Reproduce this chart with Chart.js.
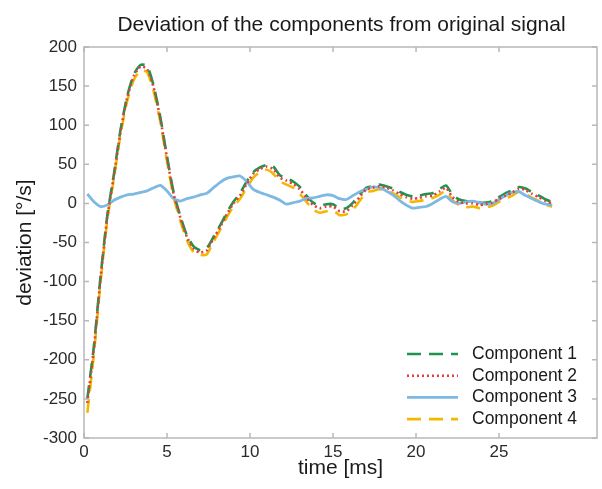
<!DOCTYPE html>
<html>
<head>
<meta charset="utf-8">
<script src="https://cdn.jsdelivr.net/npm/chart.js@4/dist/chart.umd.min.js"></script>
<style>
    html, body {margin: 0; padding: 0; background: #ffffff;}
    #wrap {width: 602px; height: 489px;}
</style>
</head>
<body>
<div id="wrap"><canvas id="deviation_canvas" width="602" height="489"></canvas></div>
<script>
// time axis in ms (shared by all four components)
const time_ms = [
    0.2, 0.6, 1.0, 1.4, 1.8, 2.2, 2.6, 3.0, 3.4, 3.8,
    4.2, 4.6, 5.0, 5.4, 5.8, 6.2, 6.6, 7.0, 7.4, 7.8,
    8.2, 8.6, 9.0, 9.4, 9.8, 10.2, 10.6, 11.0, 11.4, 11.8,
    12.2, 12.6, 13.0, 13.4, 13.8, 14.2, 14.6, 15.0, 15.4, 15.8,
    16.2, 16.6, 17.0, 17.4, 17.8, 18.2, 18.6, 19.0, 19.4, 19.8,
    20.2, 20.6, 21.0, 21.4, 21.8, 22.2, 22.6, 23.0, 23.4, 23.8,
    24.2, 24.6, 25.0, 25.4, 25.8, 26.2, 26.6, 27.0, 27.4, 27.8,
    28.2
];

// deviation in deg/s
const component_1 = [
    -250, -182, -93, -16, 37, 94, 137, 165, 177, 176,
    150, 110, 60, 14, -16, -41, -55, -60, -57, -43,
    -28, -12, 2, 13, 28, 40, 46, 49, 47, 36,
    32, 28, 21, 10, 1, -3, -1, -1, -7, -6,
    1, 11, 20, 22, 24, 22, 19, 15, 11, 9,
    10, 12, 13, 18, 23, 11, 5, 3, 2, 1,
    1, 3, 8, 13, 17, 21, 19, 14, 10, 5,
    2
];
const component_2 = [
    -255, -185, -95, -18, 35, 92, 135, 163, 175, 172,
    148, 108, 58, 12, -18, -43, -58, -63, -60, -45,
    -30, -14, 0, 10, 25, 38, 44, 47, 44, 33,
    29, 25, 18, 7, -2, -6, -4, -4, -10, -10,
    -2, 8, 18, 20, 22, 20, 17, 12, 8, 6,
    7, 9, 10, 15, 20, 8, 2, 0, 0, -2,
    -1, 1, 6, 10, 14, 19, 17, 12, 8, 3,
    0
];
const component_3 = [
    12, 2, -4, -2, 4, 8, 11, 12, 14, 16,
    20, 23, 16, 6, 3, 6, 8, 11, 13, 20,
    27, 32, 34, 35, 28, 18, 14, 11, 8, 4,
    -1, 1, 3, 6, 7, 9, 11, 10, 6, 5,
    10, 15, 18, 21, 20, 16, 11, 4, -2, -6,
    -5, -4, 0, 5, 9, 2, 0, 2, 3, 1,
    -1, 0, 5, 10, 14, 15, 10, 6, 2, -1,
    -2
];
const component_4 = [
    -268, -192, -100, -22, 32, 88, 131, 158, 170, 168,
    143, 104, 54, 8, -22, -47, -62, -66, -65, -49,
    -34, -18, -4, 6, 20, 33, 40, 43, 38, 28,
    24, 20, 12, 2, -8, -12, -10, -9, -15, -14,
    -8, 3, 14, 16, 18, 16, 13, 8, 4, 2,
    3, 5, 7, 11, 16, 4, -2, -5, -4, -6,
    -5, -3, 2, 6, 10, 15, 12, 7, 3, -2,
    -4
];

const series_names = ["Component 1", "Component 2", "Component 3", "Component 4"];
const series_values = [component_1, component_2, component_3, component_4];
const x_tick_values = [0, 5, 10, 15, 20, 25];
const y_tick_values = [-300, -250, -200, -150, -100, -50, 0, 50, 100, 150, 200];

const series_styles = [
    {color: "#1f9350", dash: [14, 8], width: 2.6, order: 2},
    {color: "#e2403c", dash: [2, 3], width: 2.6, order: 0},
    {color: "#7db9e2", dash: [], width: 2.8, order: 1},
    {color: "#f2b800", dash: [14, 8], width: 2.6, order: 3}
];

const FONT = "'Liberation Sans', Arial, Helvetica, sans-serif";

function build_datasets() {
    let datasets = [];
    for (let i = 0; i < series_names.length; i++) {
        const style = series_styles[i];
        datasets.push({
            label: series_names[i],
            data: time_ms.map((t, k) => ({x: t, y: series_values[i][k]})),
            borderColor: style.color,
            backgroundColor: style.color,
            borderDash: style.dash,
            borderWidth: style.width,
            pointRadius: 0,
            tension: 0.2,
            order: style.order
        });
    }
    return datasets;
}

// frame with inward tick marks, like the original figure
const frame_plugin = {
    id: "frame_plugin",
    afterDraw(chart) {
        const ctx = chart.ctx;
        const area = chart.chartArea;
        const xs = chart.scales.x;
        const ys = chart.scales.y;
        ctx.save();
        ctx.strokeStyle = "#b8b8b8";
        ctx.lineWidth = 1.5;
        ctx.setLineDash([]);
        ctx.strokeRect(area.left, area.top, area.right - area.left, area.bottom - area.top);
        ctx.beginPath();
        for (const v of x_tick_values) {
            const px = xs.getPixelForValue(v);
            ctx.moveTo(px, area.bottom); ctx.lineTo(px, area.bottom - 5);
            ctx.moveTo(px, area.top); ctx.lineTo(px, area.top + 5);
        }
        for (const v of y_tick_values) {
            const py = ys.getPixelForValue(v);
            ctx.moveTo(area.left, py); ctx.lineTo(area.left + 5, py);
            ctx.moveTo(area.right, py); ctx.lineTo(area.right - 5, py);
        }
        ctx.stroke();
        ctx.restore();
    }
};

// title and legend drawn by hand so they sit where the original has them
const text_plugin = {
    id: "text_plugin",
    afterDraw(chart) {
        const ctx = chart.ctx;
        const area = chart.chartArea;
        ctx.save();
        ctx.fillStyle = "#1a1a1a";
        ctx.font = "21px " + FONT;
        ctx.textAlign = "center";
        ctx.textBaseline = "middle";
        ctx.fillText("Deviation of the components from original signal", (area.left + area.right) / 2 + 1, 25);

        const line_left = area.right - 190;
        const line_right = area.right - 139;
        const text_left = area.right - 125;
        let row_y = area.bottom - 84;
        chart.data.datasets.forEach((ds) => {
            ctx.strokeStyle = ds.borderColor;
            ctx.lineWidth = ds.borderWidth;
            ctx.setLineDash(ds.borderDash);
            ctx.beginPath();
            ctx.moveTo(line_left, row_y);
            ctx.lineTo(line_right, row_y);
            ctx.stroke();
            ctx.setLineDash([]);
            ctx.fillStyle = "#1a1a1a";
            ctx.font = "17.5px " + FONT;
            ctx.textAlign = "left";
            ctx.fillText(ds.label, text_left, row_y);
            row_y += 21.7;
        });
        ctx.restore();
    }
};

let deviation_plot;

function setup_deviation_plot() {
    let data = {
        datasets: build_datasets()
    };

    let config = {
        type: 'line',
        data: data,
        options: {
            responsive: false,
            animation: false,
            layout: {
                padding: {left: 0, right: 5, top: 47, bottom: 8}
            },
            plugins: {
                legend: {display: false},
                title: {display: false},
                tooltip: {enabled: false}
            },
            scales: {
                x: {
                    type: 'linear',
                    min: 0,
                    max: 30.9,
                    afterBuildTicks: function(scale) {
                        scale.ticks = x_tick_values.map(v => ({value: v}));
                    },
                    afterFit: function(scale) {
                        scale.height = 43;
                    },
                    grid: {display: false, drawTicks: false, tickLength: 0},
                    border: {display: false},
                    ticks: {
                        color: "#2a2a2a",
                        font: {family: FONT, size: 17},
                        padding: 4,
                        maxRotation: 0
                    },
                    title: {
                        display: true,
                        text: "time [ms]",
                        color: "#1a1a1a",
                        font: {family: FONT, size: 21},
                        padding: {top: 0, bottom: 0}
                    }
                },
                y: {
                    type: 'linear',
                    min: -300,
                    max: 200,
                    afterBuildTicks: function(scale) {
                        scale.ticks = y_tick_values.map(v => ({value: v}));
                    },
                    afterFit: function(scale) {
                        scale.width = 84;
                    },
                    grid: {display: false, drawTicks: false, tickLength: 0},
                    border: {display: false},
                    ticks: {
                        color: "#2a2a2a",
                        font: {family: FONT, size: 17},
                        padding: 7
                    },
                    title: {
                        display: true,
                        text: "deviation [°/s]",
                        color: "#1a1a1a",
                        font: {family: FONT, size: 21},
                        padding: {top: 13, bottom: 0}
                    }
                }
            }
        },
        plugins: [frame_plugin, text_plugin]
    };

    deviation_plot = new Chart(
        document.getElementById('deviation_canvas'),
        config
    );
}

setup_deviation_plot();
</script>
</body>
</html>
